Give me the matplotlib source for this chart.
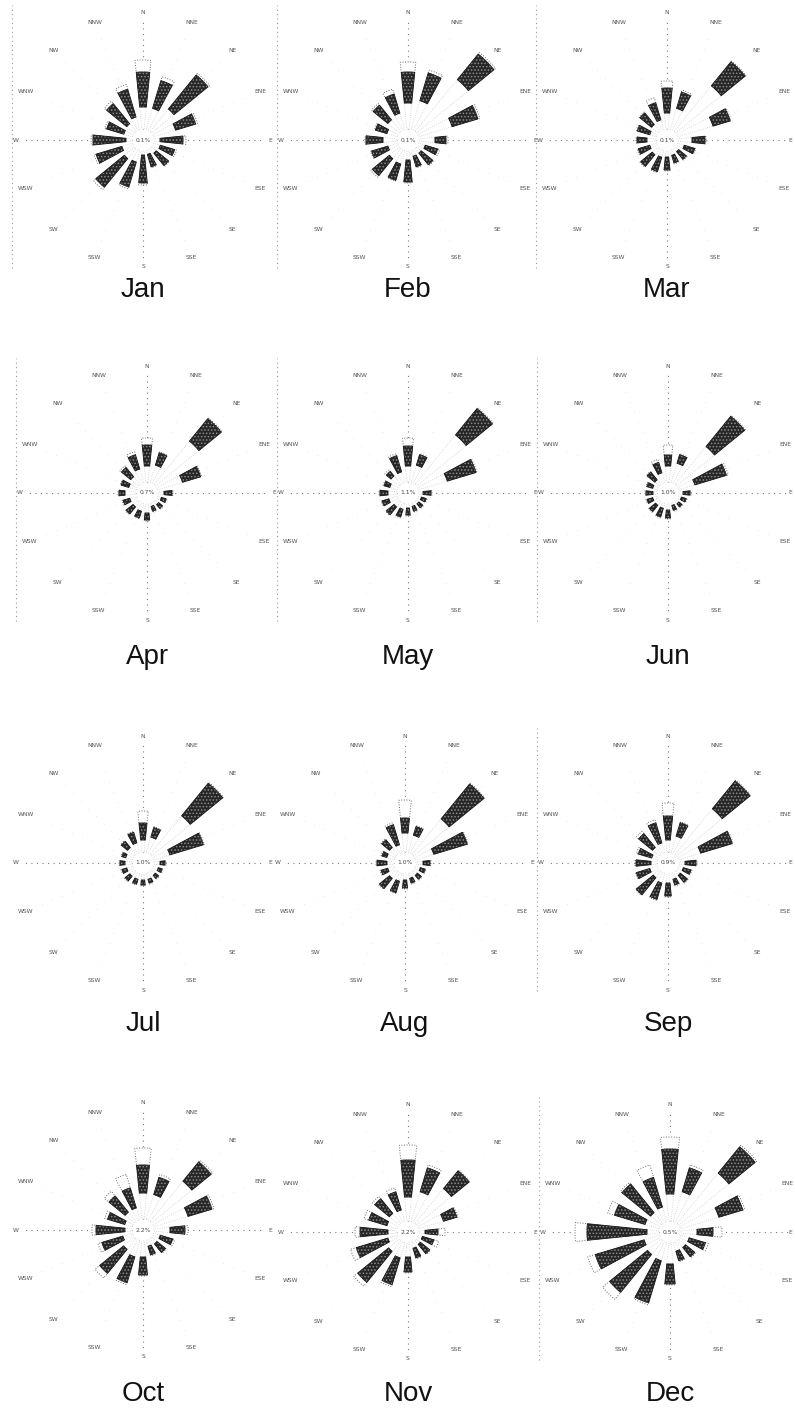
import numpy as np
import matplotlib
matplotlib.use("Agg")
import matplotlib.pyplot as plt
from matplotlib.lines import Line2D

plt.rcParams["hatch.linewidth"] = 0.7

DIRECTIONS = ["N", "NNE", "NE", "ENE", "E", "ESE", "SE", "SSE",
              "S", "SSW", "SW", "WSW", "W", "WNW", "NW", "NNW"]
MONTHS = ["Jan", "Feb", "Mar", "Apr", "May", "Jun",
          "Jul", "Aug", "Sep", "Oct", "Nov", "Dec"]
CALM = ["0.1%", "0.1%", "0.1%", "0.7%", "1.1%", "1.0%",
        "1.0%", "1.0%", "0.9%", "2.2%", "2.2%", "0.5%"]

# Frequency (%) by direction for three wind-speed classes:
# [light, moderate, strong], each listed N, NNE, ..., NNW
jan = [[4.4, 4.4, 5.8, 4.6, 1.2, 1.4, 1.2, 0.8, 0.8, 2.4, 2.6, 2.2, 1.2, 1.8, 2.0, 2.6],
       [7.0, 5.8, 8.8, 4.2, 4.6, 3.0, 3.2, 2.6, 5.6, 5.2, 7.4, 5.4, 6.6, 3.6, 5.2, 5.8],
       [2.4, 0.8, 0.4, 0.4, 0.6, 0.4, 0.2, 0.2, 0.4, 0.4, 0.6, 0.4, 0.4, 0.4, 0.6, 1.0]]
feb = [[5.2, 6.0, 13.4, 7.0, 3.2, 1.4, 1.2, 1.2, 1.8, 2.8, 2.6, 2.0, 2.8, 2.2, 3.0, 3.4],
       [6.2, 5.8, 6.6, 5.4, 2.2, 2.6, 3.0, 2.2, 4.4, 3.4, 4.4, 3.4, 3.4, 2.4, 3.8, 4.0],
       [2.0, 0.6, 0.4, 0.4, 0.4, 0.4, 0.2, 0.2, 0.2, 0.2, 0.4, 0.2, 0.2, 0.2, 0.4, 1.0]]
mar = [[3.2, 4.4, 11.8, 7.4, 2.8, 1.4, 0.8, 1.0, 1.2, 1.4, 1.6, 1.4, 1.8, 1.4, 1.8, 2.0],
       [5.0, 3.4, 6.2, 3.6, 2.6, 2.2, 2.0, 1.6, 2.6, 3.0, 3.0, 2.4, 2.0, 2.6, 3.0, 3.6],
       [1.4, 0.4, 0.2, 0.2, 0.2, 0.2, 0.2, 0.2, 0.2, 0.2, 0.2, 0.2, 0.2, 0.2, 0.2, 1.0]]
apr = [[3.2, 3.6, 11.2, 5.2, 1.2, 0.8, 0.8, 0.6, 1.8, 1.6, 1.4, 1.4, 2.2, 1.6, 2.0, 2.8],
       [4.2, 2.6, 5.8, 3.8, 1.6, 1.0, 1.0, 1.0, 1.4, 1.4, 1.8, 1.4, 1.2, 1.6, 2.4, 3.0],
       [1.4, 0.2, 0.2, 0.2, 0.2, 0.2, 0.2, 0.2, 0.2, 0.2, 0.2, 0.2, 0.2, 0.2, 0.4, 0.6]]
may = [[3.2, 3.6, 12.8, 6.0, 0.8, 0.6, 0.6, 0.6, 0.8, 1.2, 1.4, 1.8, 1.8, 1.6, 2.2, 2.2],
       [4.0, 2.2, 6.8, 6.0, 1.6, 1.0, 1.0, 1.0, 1.4, 1.6, 2.0, 1.4, 1.6, 1.2, 1.2, 3.4],
       [1.6, 0.2, 0.2, 0.2, 0.2, 0.2, 0.2, 0.2, 0.2, 0.2, 0.2, 0.2, 0.2, 0.2, 0.4, 0.4]]
jun = [[3.2, 4.0, 9.8, 3.4, 0.8, 0.6, 0.6, 0.4, 1.2, 1.0, 1.0, 1.0, 0.8, 1.0, 1.2, 2.0],
       [2.2, 1.8, 7.8, 6.6, 1.4, 1.0, 0.8, 1.0, 1.6, 1.8, 1.6, 1.2, 1.4, 1.2, 2.0, 2.2],
       [2.0, 0.2, 0.2, 0.4, 0.2, 0.2, 0.2, 0.2, 0.2, 0.2, 0.2, 0.2, 0.2, 0.2, 0.2, 0.6]]
jul = [[2.4, 3.2, 10.0, 3.4, 1.2, 1.0, 1.0, 1.2, 1.2, 1.2, 1.2, 1.2, 1.4, 1.4, 1.8, 2.0],
       [3.4, 2.0, 8.4, 7.0, 1.0, 0.8, 0.8, 0.8, 1.0, 1.0, 1.2, 1.0, 1.0, 0.8, 1.6, 2.2],
       [2.4, 0.2, 0.2, 0.2, 0.2, 0.2, 0.2, 0.2, 0.2, 0.2, 0.2, 0.2, 0.2, 0.2, 0.2, 0.2]]
aug = [[3.8, 3.6, 9.2, 3.8, 1.4, 1.0, 1.0, 1.0, 1.2, 1.6, 1.8, 1.4, 1.4, 1.6, 1.8, 1.6],
       [3.0, 1.8, 9.0, 7.0, 1.4, 1.0, 1.0, 1.0, 1.6, 2.4, 2.6, 1.4, 2.0, 1.0, 2.0, 4.2],
       [3.6, 0.2, 0.2, 0.2, 0.2, 0.2, 0.2, 0.2, 0.2, 0.2, 0.2, 0.2, 0.2, 0.2, 0.2, 0.4]]
sep = [[2.4, 3.4, 11.8, 4.6, 1.2, 1.0, 1.0, 1.2, 1.8, 2.0, 1.6, 1.6, 1.2, 1.2, 1.8, 2.0],
       [4.8, 2.8, 7.2, 6.6, 2.2, 1.6, 1.8, 1.2, 2.6, 3.4, 4.4, 2.8, 3.0, 2.8, 3.6, 4.2],
       [2.6, 0.2, 0.2, 0.2, 0.2, 0.2, 0.2, 0.2, 0.2, 0.2, 0.2, 0.2, 0.2, 0.4, 0.6, 0.6]]
oct_ = [[5.2, 5.2, 10.4, 7.2, 3.2, 1.4, 1.4, 1.2, 3.2, 3.4, 2.8, 2.0, 1.4, 1.6, 2.4, 2.4],
        [5.6, 3.6, 5.0, 5.0, 3.0, 2.6, 2.2, 1.8, 3.6, 5.4, 6.2, 4.4, 5.8, 3.6, 4.2, 4.2],
        [3.4, 0.6, 0.4, 0.4, 0.6, 0.4, 0.2, 0.2, 0.2, 0.4, 1.2, 0.8, 0.8, 0.6, 1.2, 2.8]]
nov = [[4.8, 6.2, 9.0, 5.2, 1.2, 0.8, 1.0, 1.2, 2.8, 3.2, 2.8, 2.0, 1.8, 2.2, 2.6, 2.4],
       [7.4, 5.0, 4.6, 2.8, 2.6, 2.4, 2.4, 2.0, 3.0, 5.6, 8.0, 6.6, 5.6, 3.8, 3.8, 3.8],
       [3.0, 0.6, 0.2, 0.2, 1.4, 1.0, 0.2, 0.2, 0.2, 0.4, 1.0, 1.2, 1.0, 1.0, 0.6, 0.8]]
dec = [[5.4, 6.2, 13.0, 8.0, 3.2, 1.8, 1.8, 1.8, 4.2, 3.8, 3.6, 3.2, 2.4, 3.0, 2.8, 3.0],
       [9.0, 5.0, 6.8, 5.0, 3.2, 3.4, 2.4, 2.0, 4.0, 8.8, 9.8, 10.2, 12.0, 6.4, 7.4, 6.2],
       [2.4, 0.6, 0.4, 0.4, 1.8, 0.6, 0.2, 0.2, 0.2, 0.4, 1.8, 1.6, 2.4, 1.4, 0.4, 2.6]]
MONTH_DATA = [jan, feb, mar, apr, may, jun, jul, aug, sep, oct_, nov, dec]

# page layout in pixels
W, H = 795, 1409
CENTERS = [(143, 140), (408, 140), (667, 140),
           (147, 493), (408, 493), (668, 493),
           (143, 863), (405, 863), (668, 863),
           (143, 1230), (408, 1232), (670, 1232)]
TITLE_Y = [290, 290, 290, 657, 657, 657, 1024, 1024, 1024, 1394, 1394, 1394]
FRAME_LEFT = [True, True, True, True, True, True,
              False, False, True, False, False, True]

PX_PER_PCT = 5.0
R_AX = 140.0
CALM_R = 2.2
LABEL_R = 127.0 / PX_PER_PCT
BAR_W = np.deg2rad(11.5)
LABEL_KW = dict(fontsize=4.3, color="#555555")

fig = plt.figure(figsize=(W / 100, H / 100), dpi=100)
fig.patch.set_facecolor("white")

theta = np.deg2rad(np.arange(16) * 22.5)

for i, (name, data) in enumerate(zip(MONTHS, MONTH_DATA)):
    cx, cy = CENTERS[i]
    ax = fig.add_axes([(cx - R_AX) / W, 1 - (cy + R_AX) / H,
                       2 * R_AX / W, 2 * R_AX / H], projection="polar")
    ax.set_theta_zero_location("N")
    ax.set_theta_direction(-1)
    ax.set_ylim(0, R_AX / PX_PER_PCT)
    ax.axis("off")

    # spokes: the four cardinal ones show, the others are barely there
    for k, t in enumerate(theta):
        if k % 4 == 0:
            ax.plot([t, t], [CALM_R, LABEL_R - 1.6], color="#7a7a7a",
                    lw=0.8, ls=(0, (1, 4)), zorder=1)
        else:
            ax.plot([t, t], [CALM_R, LABEL_R - 2.5], color="#e2e2e2",
                    lw=0.6, ls=(0, (1, 12)), zorder=1)

    low, mid, high = (np.array(v) for v in data)
    ax.bar(theta, low, width=BAR_W, bottom=CALM_R, color="white",
           edgecolor="#cfcfcf", linewidth=0.6, linestyle=":", zorder=2)
    ax.bar(theta, mid, width=BAR_W, bottom=CALM_R + low, color="#262626",
           edgecolor="#8c8c8c", hatch=".....", linewidth=0, zorder=3)
    ax.bar(theta, mid, width=BAR_W, bottom=CALM_R + low, fill=False,
           edgecolor="#151515", linewidth=0.6, zorder=4)
    ax.bar(theta, high, width=BAR_W, bottom=CALM_R + low + mid, color="white",
           edgecolor="#6a6a6a", linewidth=0.7, linestyle=":", zorder=3)

    right_col = i % 3 == 2
    for t, lab in zip(theta, DIRECTIONS):
        if lab == "E" and right_col:
            # keep the east label inside the page on the right-hand column
            fig.text(792 / W, 1 - cy / H, lab, ha="right", va="center",
                     **LABEL_KW)
        else:
            ax.text(t, LABEL_R, lab, ha="center", va="center",
                    clip_on=False, **LABEL_KW)
    ax.text(0, 0, CALM[i], ha="center", va="center", fontsize=4.3,
            color="#444444")

    if FRAME_LEFT[i]:
        x = (cx - 131) / W
        fig.add_artist(Line2D([x, x], [1 - (cy + 128) / H, 1 - (cy - 135) / H],
                              transform=fig.transFigure, color="#9a9a9a",
                              lw=0.8, ls=(0, (1, 3))))

    fig.text(cx / W, 1 - TITLE_Y[i] / H, name, ha="center", va="center",
             fontsize=20, family="Liberation Sans", color="#111111")

fig.savefig("out.png", dpi=100, facecolor="white")
